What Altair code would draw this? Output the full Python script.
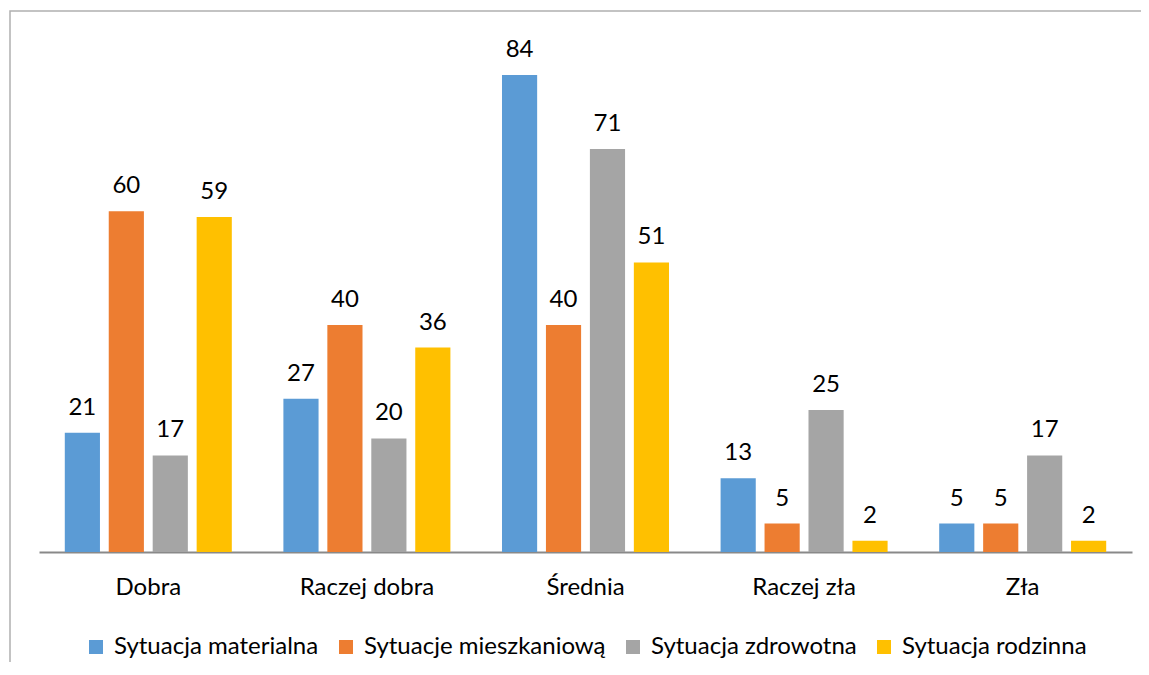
import altair as alt
import pandas as pd

categories = ["Dobra", "Raczej dobra", "Średnia", "Raczej zła", "Zła"]
series = ["Sytuacja materialna", "Sytuacje mieszkaniową", "Sytuacja zdrowotna", "Sytuacja rodzinna"]
materialna = [21, 27, 84, 13, 5]
mieszkaniowa = [60, 40, 40, 5, 5]
zdrowotna = [17, 20, 71, 25, 17]
rodzinna = [59, 36, 51, 2, 2]
colors = ["#5B9BD5", "#ED7D31", "#A5A5A5", "#FFC000"]

rows = []
for s, vals in zip(series, [materialna, mieszkaniowa, zdrowotna, rodzinna]):
    for c, v in zip(categories, vals):
        rows.append({"kategoria": c, "seria": s, "wartosc": v})
df = pd.DataFrame(rows)

FONT = "Lato"
FS = 24
LFS = 24

x_enc = alt.X("kategoria:N", sort=categories,
              scale=alt.Scale(paddingInner=0.236, paddingOuter=0.118),
              axis=alt.Axis(title=None, labelAngle=0, ticks=False, labelPadding=42,
                            labelBaseline="alphabetic", labelFont=FONT, labelFontSize=FS,
                            labelColor="#000000", domainColor="#898989", domainWidth=2,
                            grid=False))
xoff = alt.XOffset("seria:N", sort=series, scale=alt.Scale(paddingInner=0.2, paddingOuter=0))
y_enc = alt.Y("wartosc:Q", scale=alt.Scale(domain=[0, 90], nice=False), axis=None)

base = alt.Chart(df)

bars = base.mark_bar().encode(
    x=x_enc, xOffset=xoff, y=y_enc,
    color=alt.Color("seria:N", sort=series,
                    scale=alt.Scale(domain=series, range=colors),
                    legend=alt.Legend(title=None, orient="none", direction="horizontal",
                                      legendX=45, legendY=594, padding=0, symbolType="square",
                                      symbolSize=196, symbolStrokeWidth=0,
                                      labelFont=FONT, labelFontSize=LFS, labelColor="#000000",
                                      labelOffset=6, columnPadding=15, labelLimit=400)),
)

labels = base.mark_text(baseline="alphabetic", dy=-18, font=FONT, fontSize=FS, color="#000000").encode(
    x=alt.X("kategoria:N", sort=categories), xOffset=alt.XOffset("seria:N", sort=series),
    y="wartosc:Q", text="wartosc:Q",
)

border = alt.Chart(pd.DataFrame({"b": [0]})).mark_rect(
    filled=False, stroke="#b0b0b0", strokeWidth=1.5
).encode(x=alt.value(-29), y=alt.value(-30), x2=alt.value(1300), y2=alt.value(900))

chart = alt.layer(border, bars, labels).properties(
    width=1093, height=511,
    autosize=alt.AutoSizeParams(type="none"),
    padding={"left": 31, "top": 33, "right": 9, "bottom": 110},
).configure(background="#ffffff").configure_view(stroke=None)

chart.save("out.html", embed_options={"renderer": "svg", "actions": False})
